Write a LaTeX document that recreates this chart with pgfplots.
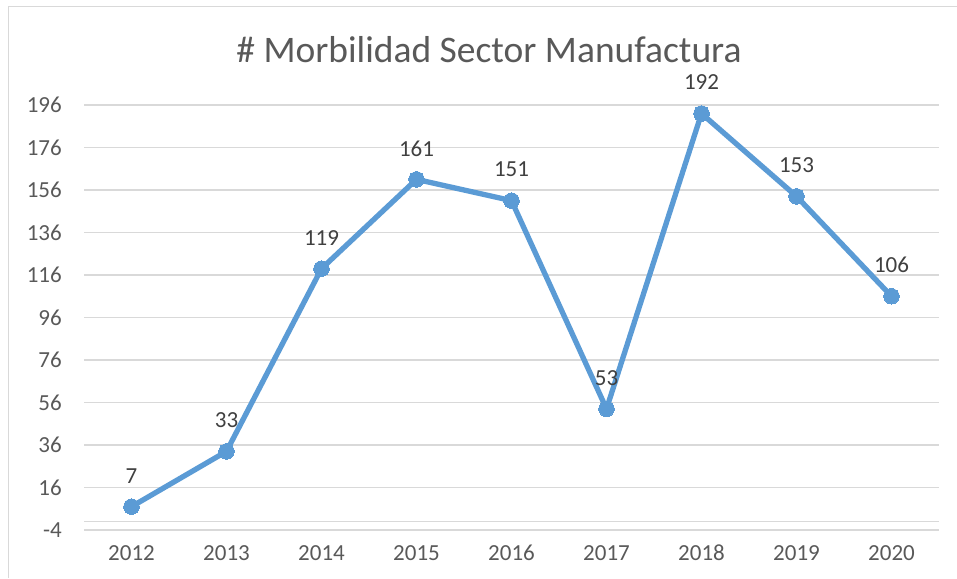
\documentclass[border=0pt]{standalone}
\usepackage{pgfplots}
\pgfplotsset{compat=1.18}
\usepackage{fontspec}
\setmainfont{Carlito}
\definecolor{linec}{RGB}{91,155,213}
\definecolor{gridc}{RGB}{217,217,217}
\definecolor{txtc}{RGB}{89,89,89}
\definecolor{datc}{RGB}{64,64,64}
\begin{document}
\begin{tikzpicture}
\path[use as bounding box] (0,0) rectangle (957pt,-578pt);
\draw[gridc, line width=1pt] (8pt,-578pt) -- (8pt,-7pt) -- (957pt,-7pt);
\node[text=txtc, font=\fontsize{37.5}{42}\selectfont] at (489pt,-50pt) {\# Morbilidad Sector Manufactura};
\begin{axis}[
  at={(84pt,-530pt)}, anchor=south west,
  scale only axis, width=855pt, height=425pt,
  xmin=-0.5, xmax=8.5, ymin=-4, ymax=196,
  xtick={0,...,8},
  xticklabels={2012,2013,2014,2015,2016,2017,2018,2019,2020},
  ytick={-4,16,...,196},
  axis line style={draw=none},
  major tick length=0pt,
  ymajorgrids,
  major grid style={gridc, line width=1.4pt},
  tick label style={text=txtc, font=\fontsize{23}{27}\selectfont},
  /pgf/number format/assume math mode=true,
  yticklabel style={inner sep=0pt, xshift=-22pt, anchor=east},
  xticklabel style={inner sep=0pt, yshift=-23pt, anchor=center},
  clip=false,
  nodes near coords,
  every node near coord/.append style={text=datc, font=\fontsize{23}{27}\selectfont, anchor=center, yshift=31pt, inner sep=0pt},
]
\draw[gridc, line width=1.4pt] (axis cs:-0.5,0) -- (axis cs:8.5,0);
\addplot[linec, line width=5.3pt, mark=*, mark size=7.8pt, mark options={fill=linec, draw=linec, line width=0pt}] coordinates {
(0,7) (1,33) (2,119) (3,161) (4,151) (5,53) (6,192) (7,153) (8,106)
};
\end{axis}
\end{tikzpicture}
\end{document}
